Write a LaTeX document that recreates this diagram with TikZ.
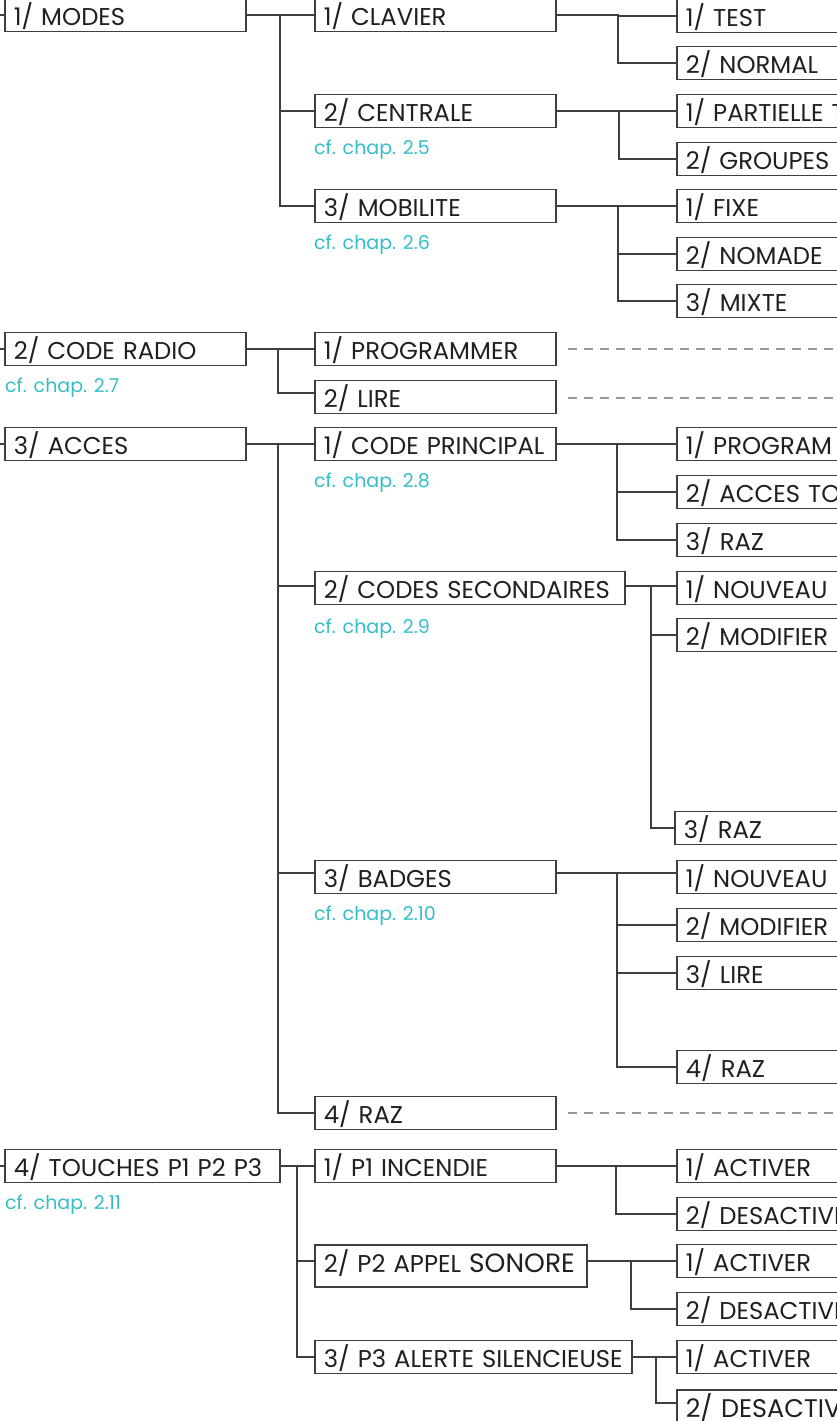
\documentclass[tikz,border=0pt]{standalone}
\usepackage{fontspec}
\setmainfont{Poppins}
\definecolor{textc}{RGB}{35,31,32}
\definecolor{linec}{RGB}{62,62,62}
\definecolor{cyanc}{RGB}{51,190,200}
\definecolor{dashc}{RGB}{150,150,152}
\tikzset{
  menubox/.style={draw=linec, line width=1.6pt, anchor=west, minimum height=33pt,
    inner ysep=0pt, inner xsep=9pt, text height=24pt, text depth=3pt, align=left,
    text=textc, font=\fontsize{24.3}{24.3}\selectfont},
  wA/.style={text width=223pt},
  wL/.style={text width=232pt},
  conn/.style={draw=linec, line width=1.6pt},
  dashline/.style={draw=dashc, line width=2.6pt, dash pattern=on 9pt off 7pt},
  cf/.style={anchor=base west, inner sep=0pt, text=cyanc, font=\fontsize{19}{19}\selectfont}
}
\begin{document}
\begin{tikzpicture}[x=1pt,y=-1pt]
\useasboundingbox (0,0) rectangle (837,1421);
\clip (0,0) rectangle (837,1421);
\fill[white] (0,0) rectangle (837,1421);
\coordinate (edgeL) at (-3,0);
\coordinate (edgeR) at (845,0);

% level 1
\node[menubox,wA] (modes) at (4,15) {1/ MODES};
\node[menubox,wA] (radio) at (4,349) {2/ CODE RADIO};
\node[menubox,wA] (acces) at (4,444) {3/ ACCES};
\node[menubox,text width=257pt] (touches) at (4,1166) {4/ TOUCHES P1 P2 P3};

% level 2
\node[menubox,wA] (clavier) at (314,15) {1/ CLAVIER};
\node[menubox,wA] (centrale) at (314,111) {2/ CENTRALE};
\node[menubox,wA] (mobilite) at (314,206) {3/ MOBILITE};
\node[menubox,wA] (prog) at (314,349) {1/ PROGRAMMER};
\node[menubox,wA] (lire) at (314,397) {2/ LIRE};
\node[menubox,wA] (cprinc) at (314,444) {1/ CODE PRINCIPAL};
\node[menubox,text width=292pt] (csec) at (314,588) {2/ CODES SECONDAIRES};
\node[menubox,wA] (badges) at (314,877) {3/ BADGES};
\node[menubox,wA] (razA) at (314,1113) {4/ RAZ};
\node[menubox,wA] (pone) at (314,1166) {1/ P1 INCENDIE};
\node[menubox,text width=254pt,minimum height=42pt,text height=17pt,text depth=5pt] (ptwo) at (314,1266) {2/ P2 APPEL {\fontsize{26.5}{26.5}\selectfont SONORE}};
\node[menubox,text width=299pt] (pthree) at (314,1357) {3/ P3 ALERTE SILENCIEUSE};

% level 3
\node[menubox,wL] (test) at (676,16) {1/ TEST};
\node[menubox,wL] (normal) at (676,63) {2/ NORMAL};
\node[menubox,wL] (partielle) at (676,111) {1/ PARTIELLE T};
\node[menubox,wL] (groupes) at (676,159) {2/ GROUPES};
\node[menubox,wL] (fixe) at (676,206) {1/ FIXE};
\node[menubox,wL] (nomade) at (676,254) {2/ NOMADE};
\node[menubox,wL] (mixte) at (676,301) {3/ MIXTE};
\node[menubox,wL] (program) at (676,444) {1/ PROGRAM};
\node[menubox,wL] (accesto) at (676,492) {2/ ACCES TO};
\node[menubox,wL] (razB) at (676,540) {3/ RAZ};
\node[menubox,wL] (nouvA) at (676,588) {1/ NOUVEAU};
\node[menubox,wL] (modifA) at (676,635) {2/ MODIFIER};
\node[menubox,wL] (razC) at (674,828) {3/ RAZ};
\node[menubox,wL] (nouvB) at (676,877) {1/ NOUVEAU};
\node[menubox,wL] (modifB) at (676,925) {2/ MODIFIER};
\node[menubox,wL] (lireB) at (676,973) {3/ LIRE};
\node[menubox,wL] (razD) at (676,1067) {4/ RAZ};
\node[menubox,wL] (actA) at (676,1166) {1/ ACTIVER};
\node[menubox,wL] (desA) at (676,1214) {2/ DESACTIVE};
\node[menubox,wL] (actB) at (676,1261) {1/ ACTIVER};
\node[menubox,wL] (desB) at (676,1309) {2/ DESACTIVE};
\node[menubox,wL] (actC) at (676,1357) {1/ ACTIVER};
\node[menubox,wL,minimum height=48pt,text height=20pt,text depth=14pt,font=\fontsize{25.5}{25.5}\selectfont] (desC) at (676,1414) {2/ DESACTIV};

% chapter references
\node[cf] (cf5) at ([yshift=-26pt]centrale.south west) {cf. chap. 2.5};
\node[cf] (cf6) at ([yshift=-26pt]mobilite.south west) {cf. chap. 2.6};
\node[cf] (cf7) at ([yshift=-26pt,xshift=1pt]radio.south west) {cf. chap. 2.7};
\node[cf] (cf8) at ([yshift=-26pt]cprinc.south west) {cf. chap. 2.8};
\node[cf] (cf9) at ([yshift=-28pt]csec.south west) {cf. chap. 2.9};
\node[cf] (cf10) at ([yshift=-26pt]badges.south west) {cf. chap. 2.10};
\node[cf] (cf11) at ([yshift=-26pt,xshift=1pt]touches.south west) {cf. chap. 2.11};

% stubs from left edge
\foreach \n in {modes,radio,acces,touches}{
  \draw[conn] (\n.west) -- (\n.west -| edgeL);
}

% level 1 -> level 2
\coordinate (jm) at (280,15);
\draw[conn] (modes.east) -- (jm) |- (clavier.west);
\draw[conn] (jm) |- (centrale.west);
\draw[conn] (jm) |- (mobilite.west);

\coordinate (jr) at (278,349);
\draw[conn] (radio.east) -- (jr) |- (prog.west);
\draw[conn] (jr) |- ([yshift=4pt]lire.west);

\coordinate (ja) at (278,444);
\draw[conn] (acces.east) -- (ja) |- (cprinc.west);
\draw[conn] (ja) |- ([yshift=2pt]csec.west);
\draw[conn] (ja) |- ([yshift=4pt]badges.west);
\draw[conn] (ja) |- (razA.west);

\coordinate (jt) at (297,1166);
\draw[conn] (touches.east) -- (jt) |- (pone.west);
\draw[conn] (jt) |- ([yshift=5pt]ptwo.west);
\draw[conn] (jt) |- (pthree.west);

% level 2 -> level 3
\coordinate (jc) at (618,15);
\draw[conn] (clavier.east) -- (jc) |- (test.west);
\draw[conn] (jc) |- (normal.west);

\coordinate (jce) at (619,111);
\draw[conn] (centrale.east) -- (jce) |- (partielle.west);
\draw[conn] (jce) |- (groupes.west);

\coordinate (jmo) at (618,206);
\draw[conn] (mobilite.east) -- (jmo) |- (fixe.west);
\draw[conn] (jmo) |- (nomade.west);
\draw[conn] (jmo) |- (mixte.west);

\coordinate (jp) at (617,444);
\draw[conn] (cprinc.east) -- (jp) |- (program.west);
\draw[conn] (jp) |- (accesto.west);
\draw[conn] (jp) |- (razB.west);

\coordinate (js) at (651,586);
\draw[conn] ([yshift=2pt]csec.east) -- (js) |- ([yshift=2pt]nouvA.west);
\draw[conn] (js) |- (modifA.west);
\draw[conn] (js) |- (razC.west);

\coordinate (jb) at (617,873);
\draw[conn] ([yshift=4pt]badges.east) -- (jb) |- ([yshift=4pt]nouvB.west);
\draw[conn] (jb) |- (modifB.west);
\draw[conn] (jb) |- (lireB.west);
\draw[conn] (jb) |- (razD.west);

\coordinate (j1) at (616,1166);
\draw[conn] (pone.east) -- (j1) |- (actA.west);
\draw[conn] (j1) |- (desA.west);

\coordinate (j2) at (631,1261);
\draw[conn] ([yshift=5pt]ptwo.east) -- (j2) |- (actB.west);
\draw[conn] (j2) |- (desB.west);

\coordinate (j3) at (656,1357);
\draw[conn] (pthree.east) -- (j3) |- (actC.west);
\draw[conn] (j3) |- ([yshift=11pt]desC.west);

% dashed continuations
\draw[dashline] ([xshift=11pt]prog.east) -- (prog.east -| edgeR);
\draw[dashline] ([xshift=11pt,yshift=-1pt]lire.east) -- ([yshift=-1pt]lire.east -| edgeR);
\draw[dashline] ([xshift=11pt]razA.east) -- (razA.east -| edgeR);
\end{tikzpicture}
\end{document}
